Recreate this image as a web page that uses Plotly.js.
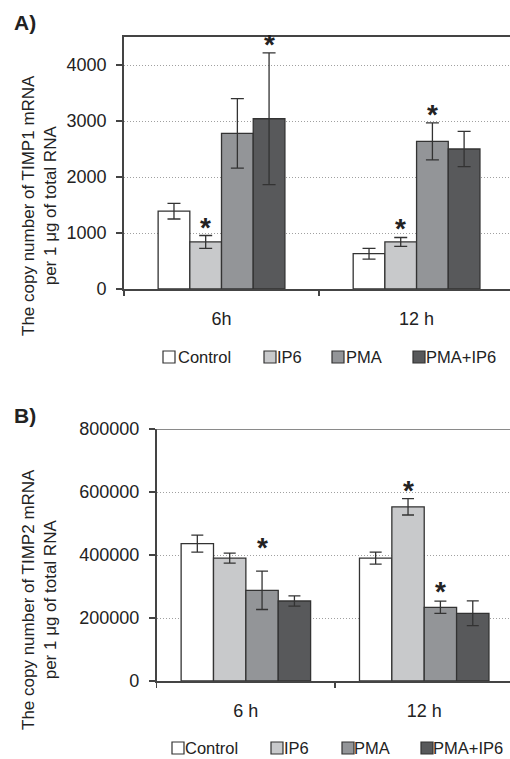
<!DOCTYPE html>
<html>
<head>
<meta charset="utf-8">
<script src="https://cdn.plot.ly/plotly-3.0.1.min.js"></script>
<style>html,body{margin:0;padding:0;background:#fff;}#chart{width:510px;height:759px;}</style>
</head>
<body>
<div id="chart"></div>
<script>
// ---- data ----
const seriesNames = ['Control', 'IP6', 'PMA', 'PMA+IP6'];
const categoriesA = ['6h', '12 h'];
const categoriesB = ['6 h', '12 h'];

const timp1Control = [1390, 630];
const timp1IP6 = [840, 840];
const timp1PMA = [2780, 2635];
const timp1PMAIP6 = [3040, 2500];
const timp1ControlErr = [140, 95];
const timp1IP6Err = [115, 80];
const timp1PMAErr = [620, 330];
const timp1PMAIP6Err = [1175, 315];

const timp2Control = [436000, 390000];
const timp2IP6 = [390000, 553000];
const timp2PMA = [288000, 234000];
const timp2PMAIP6 = [254000, 215000];
const timp2ControlErr = [27000, 19000];
const timp2IP6Err = [16000, 26000];
const timp2PMAErr = [61000, 19500];
const timp2PMAIP6Err = [16000, 39500];

// significant bars: [category index, series index]
const sigA = [[0, 1], [0, 3], [1, 1], [1, 2]];
const sigB = [[0, 2], [1, 1], [1, 2]];

const yTicksA = [0, 1000, 2000, 3000, 4000];
const yTicksB = [0, 200000, 400000, 600000, 800000];

// ---- styling ----
const colors = ['#ffffff', '#c8c9cb', '#939598', '#58595b'];
const FONT = 'Liberation Sans, Arial, sans-serif';
const ink = '#222222';
const W = 510, H = 759;

const valsA = [timp1Control, timp1IP6, timp1PMA, timp1PMAIP6];
const errsA = [timp1ControlErr, timp1IP6Err, timp1PMAErr, timp1PMAIP6Err];
const valsB = [timp2Control, timp2IP6, timp2PMA, timp2PMAIP6];
const errsB = [timp2ControlErr, timp2IP6Err, timp2PMAErr, timp2PMAIP6Err];

const wA = 0.1625, wB = 0.1815;

function makeTraces(vals, errs, cats, w, xa, ya, capW) {
  return vals.map((v, i) => ({
    type: 'bar',
    name: seriesNames[i],
    x: cats,
    y: v,
    width: w,
    offset: (i - 2) * w,
    xaxis: xa, yaxis: ya,
    showlegend: false,
    marker: {color: colors[i], line: {color: '#333333', width: 1.3}},
    error_y: {type: 'data', array: errs[i], visible: true, color: '#333333', thickness: 1.3, width: capW},
    hoverinfo: 'skip'
  }));
}

const data = [].concat(
  makeTraces(valsA, errsA, categoriesA, wA, 'x', 'y', 6.5),
  makeTraces(valsB, errsB, categoriesB, wB, 'x2', 'y2', 6)
);

const annotations = [];
const shapes = [];
function addStars(sig, vals, errs, w, xref, yref, shifts) {
  sig.forEach((s, k) => {
    const c = s[0], i = s[1];
    annotations.push({
      x: c + (i - 2) * w + w / 2,
      y: vals[i][c] + errs[i][c],
      xref: xref, yref: yref,
      text: '*', showarrow: false,
      xanchor: 'center', yanchor: 'bottom',
      yshift: (shifts && shifts[k]) || -9,
      font: {family: FONT, size: 28, color: ink, weight: 'bold'}
    });
  });
}
addStars(sigA, valsA, errsA, wA, 'x', 'y');
addStars(sigB, valsB, errsB, wB, 'x2', 'y2', [6, -9, -8]);

// panel labels
annotations.push({x: 12 / W, y: 1 - 23 / H, xref: 'paper', yref: 'paper', xanchor: 'left', yanchor: 'middle',
  text: '<b>A)</b>', showarrow: false, font: {family: FONT, size: 21, color: ink}});
annotations.push({x: 12 / W, y: 1 - 415 / H, xref: 'paper', yref: 'paper', xanchor: 'left', yanchor: 'middle',
  text: '<b>B)</b>', showarrow: false, font: {family: FONT, size: 21, color: ink}});

// y-axis titles
annotations.push({x: 39 / W, y: 1 - 206 / H, xref: 'paper', yref: 'paper', xanchor: 'center', yanchor: 'middle',
  textangle: -90, text: 'The copy number of TIMP1 mRNA<br>per 1 μg of total RNA', showarrow: false,
  font: {family: FONT, size: 17, color: ink}});
annotations.push({x: 39 / W, y: 1 - 600 / H, xref: 'paper', yref: 'paper', xanchor: 'center', yanchor: 'middle',
  textangle: -90, text: 'The copy number of TIMP2 mRNA<br>per 1 μg of total RNA', showarrow: false,
  font: {family: FONT, size: 17, color: ink}});

// legends (box left edges and text starts in px, legend centre y in px)
function addLegend(boxX, textX, cy, box) {
  seriesNames.forEach((name, i) => {
    shapes.push({type: 'rect', xref: 'paper', yref: 'paper',
      x0: boxX[i] / W, x1: (boxX[i] + box) / W, y0: 1 - (cy + box / 2) / H, y1: 1 - (cy - box / 2) / H,
      fillcolor: colors[i], line: {color: '#333333', width: 1.2}});
    annotations.push({x: textX[i] / W, y: 1 - cy / H, xref: 'paper', yref: 'paper', xanchor: 'left', yanchor: 'middle',
      text: name, showarrow: false, font: {family: FONT, size: 16.5, color: ink}});
  });
}
addLegend([163, 264, 332, 413], [176, 275, 344, 424], 357, 12);
addLegend([172, 271, 342, 421], [183, 282, 352, 431], 748, 12);

const axisLine = '#444444';
const commonX = {
  type: 'category', tickson: 'boundaries', ticks: 'outside', ticklen: 5, tickcolor: axisLine, tickwidth: 1.2,
  showline: true, linecolor: axisLine, linewidth: 1.8, showgrid: false, zeroline: false,
  tickfont: {family: FONT, size: 18, color: ink}, ticklabelstandoff: 13, fixedrange: true
};
const commonY = {
  ticks: 'outside', ticklen: 6, tickcolor: axisLine, tickwidth: 1.2,
  showline: true, linecolor: axisLine, linewidth: 1.8, tickformat: 'd',
  showgrid: true, gridcolor: '#a0a0a0', gridwidth: 1, griddash: '1px,2px', zeroline: false,
  tickfont: {family: FONT, size: 18, color: ink}, ticklabelstandoff: 6, fixedrange: true
};

shapes.push({type: 'line', xref: 'x2 domain', yref: 'y2', x0: 0, x1: 1, y0: 800000, y1: 800000,
  line: {color: '#8a8a8a', width: 2}});

const layout = {
  width: W, height: H,
  margin: {l: 0, r: 0, t: 0, b: 0, autoexpand: false},
  paper_bgcolor: '#ffffff', plot_bgcolor: '#ffffff',
  barmode: 'group',
  showlegend: false,
  xaxis: Object.assign({}, commonX, {domain: [124 / W, 1], range: [-0.5, 1.479], anchor: 'y', mirror: true}),
  yaxis: Object.assign({}, commonY, {domain: [1 - 289 / H, 1 - 37 / H], range: [0, 4500], tickvals: yTicksA, anchor: 'x'}),
  xaxis2: Object.assign({}, commonX, {domain: [156.7 / W, 1], range: [-0.5, 1.481], anchor: 'y2'}),
  yaxis2: Object.assign({}, commonY, {domain: [1 - 681 / H, 1 - 429 / H], range: [0, 800000], tickvals: yTicksB, anchor: 'x2'}),
  annotations: annotations,
  shapes: shapes
};

Plotly.newPlot('chart', data, layout, {staticPlot: true, displayModeBar: false});
</script>
</body>
</html>
